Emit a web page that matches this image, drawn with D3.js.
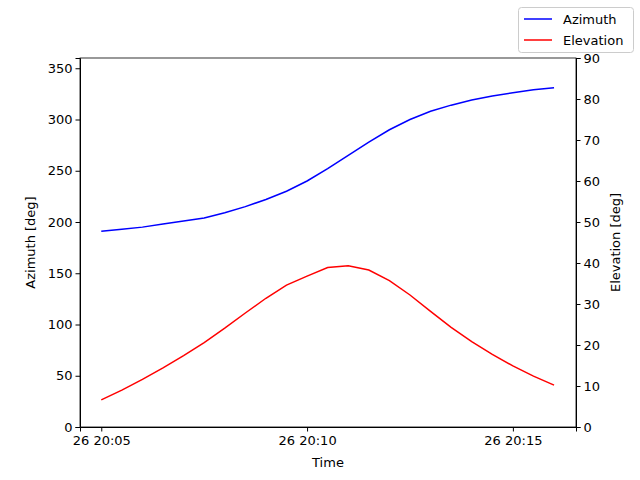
<!DOCTYPE html><html><head><script src="https://cdn.jsdelivr.net/npm/d3@7"></script>
<style>body{margin:0}text{font-family:"DejaVu Sans",sans-serif;}</style></head><body>
<script>
const startTime = "2024-01-26T20:05:00";
const stepSeconds = 30;
const azimuth = [191,193,195,198,201,204,209,215,222,230,240,252,265,278,290,300,308,314,319,323,326,329,331];
const elevation = [6.6,9,11.6,14.4,17.4,20.6,24.1,27.8,31.4,34.6,36.8,38.9,39.3,38.3,35.7,32.2,28.2,24.3,20.8,17.7,14.9,12.4,10.2];
const xTicks = ["2024-01-26T20:05:00","2024-01-26T20:10:00","2024-01-26T20:15:00"];
const leftTicks = [0,50,100,150,200,250,300,350];
const rightTicks = [0,10,20,30,40,50,60,70,80,90];

const W=640,H=480,L=80,R=576,T=58,B=427;
const t0=new Date(startTime);
const times=azimuth.map((d,i)=>new Date(t0.getTime()+i*stepSeconds*1000));
const svg=d3.select("body").append("svg").attr("width",W).attr("height",H);
const x=d3.scaleTime().domain([new Date(t0.getTime()-31000),new Date(t0.getTime()+(22*30+32)*1000)]).range([L,R]);
const yl=d3.scaleLinear().domain([0,360]).range([B,T]);
const yr=d3.scaleLinear().domain([0,90]).range([B,T]);
const fmt=d=>"26 "+d3.timeFormat("%H:%M")(d);
const style=g=>{g.selectAll("text").attr("font-size",13).attr("fill","#000");g.selectAll("line,path").attr("stroke","#000");};
svg.append("g").attr("transform",`translate(0,${B})`).call(d3.axisBottom(x).tickValues(xTicks.map(s=>new Date(s))).tickFormat(fmt).tickSizeOuter(0).tickSize(4.5).tickPadding(4)).call(style);
svg.append("g").attr("transform",`translate(${L},0)`).call(d3.axisLeft(yl).tickValues(leftTicks).tickSizeOuter(0).tickSize(4.5)).call(style);
svg.append("g").attr("transform",`translate(${R},0)`).call(d3.axisRight(yr).tickValues(rightTicks).tickSizeOuter(0).tickSize(4.5)).call(style);
svg.append("rect").attr("x",L).attr("y",T).attr("width",R-L).attr("height",B-T).attr("fill","none").attr("stroke","#000").attr("stroke-width",0.8);
svg.append("path").datum(azimuth).attr("fill","none").attr("stroke","blue").attr("stroke-width",1.5)
 .attr("d",d3.line().x((d,i)=>x(times[i])).y(d=>yl(d)));
svg.append("path").datum(elevation).attr("fill","none").attr("stroke","red").attr("stroke-width",1.5)
 .attr("d",d3.line().x((d,i)=>x(times[i])).y(d=>yr(d)));
svg.append("text").attr("x",(L+R)/2).attr("y",467).attr("text-anchor","middle").attr("font-size",13).text("Time");
svg.append("text").attr("transform",`translate(35,${(T+B)/2}) rotate(-90)`).attr("text-anchor","middle").attr("font-size",13).text("Azimuth [deg]");
svg.append("text").attr("transform",`translate(620,${(T+B)/2}) rotate(-90)`).attr("text-anchor","middle").attr("font-size",13).text("Elevation [deg]");
const lg=svg.append("g");
lg.append("rect").attr("x",518.5).attr("y",7.5).attr("width",115).attr("height",45).attr("rx",3).attr("fill","#fff").attr("stroke","#ccc");
[["Azimuth","blue"],["Elevation","red"]].forEach(([n,c],i)=>{
 const yy=19+i*21;
 lg.append("line").attr("x1",524).attr("x2",552).attr("y1",yy).attr("y2",yy).attr("stroke",c).attr("stroke-width",1.5);
 lg.append("text").attr("x",563).attr("y",yy+4.5).attr("font-size",13).text(n);
});
</script></body></html>
